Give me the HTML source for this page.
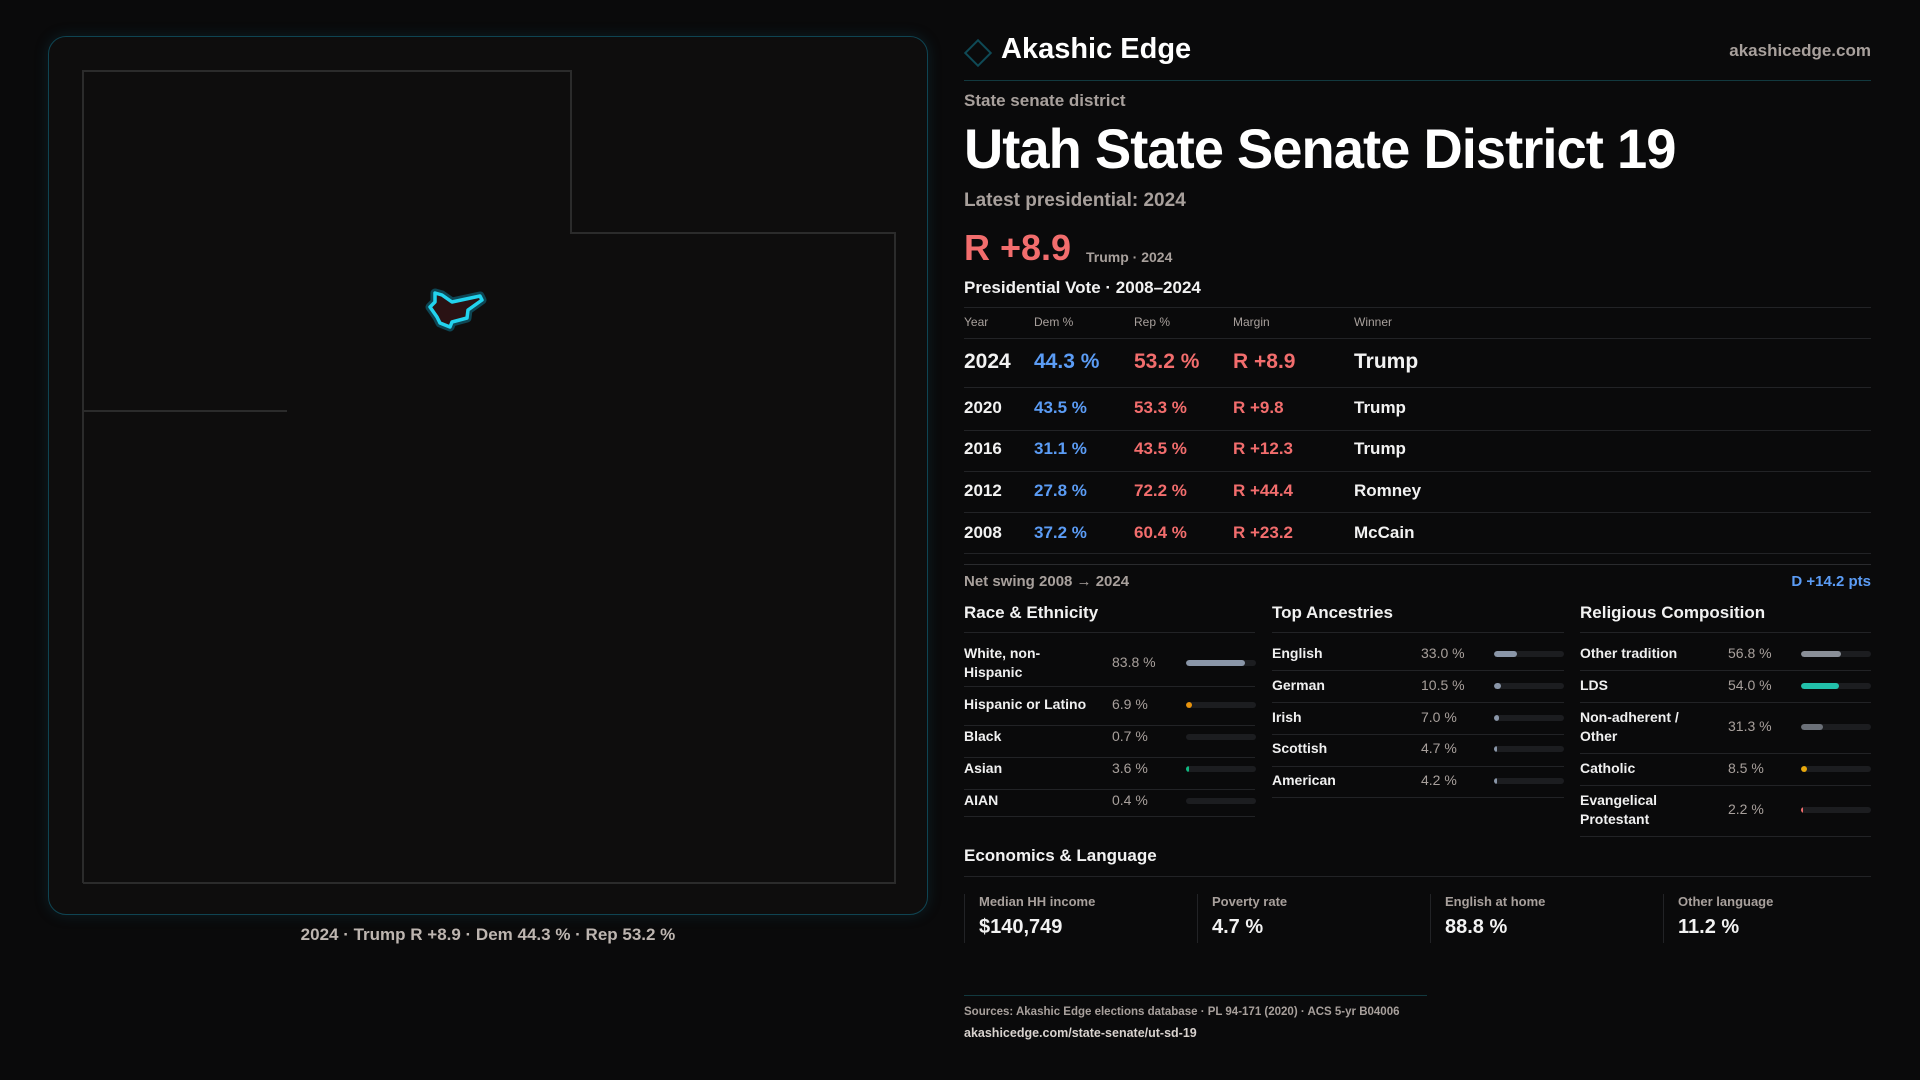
<!DOCTYPE html>
<html><head><meta charset="utf-8"><style>
*{margin:0;padding:0;box-sizing:border-box}
body{width:1920px;height:1080px;background:#0a0a0b;font-family:"Liberation Sans",sans-serif;color:#f2f2f2;position:relative;overflow:hidden}
.a{position:absolute;white-space:nowrap}
.g{color:#a8a09c}
.dem{color:#5b9cf5}.rep{color:#f26d6d}
.ln{position:absolute;height:1px;background:#222326}
.bar{position:absolute;height:6px;width:70px;border-radius:3px;background:#1c1d20;overflow:hidden}
.bar i{display:block;height:100%;border-radius:3px}
.lab{font-size:14px;font-weight:bold;color:#f0f0f0;line-height:19px}
.val{font-size:14px;color:#a8a09c}
</style></head><body>
<div class="a" style="left:48px;top:36px;width:880px;height:879px;border:1.5px solid #0f4452;border-radius:18px;background:#0e0d0d;box-shadow:0 0 14px rgba(20,90,110,.25)"></div>
<svg class="a" style="left:0;top:0" width="930" height="920">
<polyline points="83,883 83,71 571,71 571,233 895,233 895,883 83,883" fill="none" stroke="#2b2b2b" stroke-width="2"/>
<line x1="83" y1="411" x2="287" y2="411" stroke="#2b2b2b" stroke-width="2"/>
<polygon points="435,293 442,295 452,302 480,296 482,300 468,310 467,318 452,322 450,327 440,323 437,317 430,307 435,302" fill="#2a1214" stroke="#0e5566" stroke-width="9" stroke-linejoin="round" opacity=".8"/>
<polygon points="435,293 442,295 452,302 480,296 482,300 468,310 467,318 452,322 450,327 440,323 437,317 430,307 435,302" fill="#2a1214" stroke="#22d3ee" stroke-width="3.5" stroke-linejoin="round"/>
</svg>
<div class="a" style="left:0;width:976px;text-align:center;top:925px;font-size:17px;font-weight:bold;color:#bdb5b0">2024 · Trump R +8.9 · Dem 44.3 % · Rep 53.2 %</div>

<div class="a" style="left:968px;top:43px;width:20px;height:20px;border:2px solid #0f4a56;transform:rotate(45deg)"></div>
<div class="a" style="left:1001px;top:33px;font-size:29px;font-weight:bold;color:#fff">Akashic Edge</div>
<div class="a g" style="right:49px;top:41px;font-size:17px;font-weight:bold">akashicedge.com</div>
<div class="ln" style="left:964px;width:907px;top:80px;background:#12393f"></div>
<div class="a g" style="left:964px;top:91px;font-size:17px;font-weight:bold">State senate district</div>
<div class="a" style="left:964px;top:116px;font-size:56px;font-weight:bold;color:#fff;letter-spacing:-1px;transform:scaleX(.97);transform-origin:left">Utah State Senate District 19</div>
<div class="a g" style="left:964px;top:190px;font-size:19px;font-weight:bold">Latest presidential: 2024</div>
<div class="a rep" style="left:964px;top:227px;font-size:36px;font-weight:bold">R +8.9</div>
<div class="a g" style="left:1086px;top:249px;font-size:14px;font-weight:bold">Trump · 2024</div>
<div class="a" style="left:964px;top:278px;font-size:17px;font-weight:bold">Presidential Vote · 2008–2024</div>
<div class="ln" style="left:964px;width:907px;top:307px"></div>
<div class="a g" style="left:964px;top:315px;font-size:12px">Year</div>
<div class="a g" style="left:1034px;top:315px;font-size:12px">Dem %</div>
<div class="a g" style="left:1134px;top:315px;font-size:12px">Rep %</div>
<div class="a g" style="left:1233px;top:315px;font-size:12px">Margin</div>
<div class="a g" style="left:1354px;top:315px;font-size:12px">Winner</div>
<div class="ln" style="left:964px;width:907px;top:338px"></div>
<div style="font-weight:bold">
<div class="a" style="left:964px;top:350px;font-size:21px">2024</div>
<div class="a dem" style="left:1034px;top:350px;font-size:21px">44.3 %</div>
<div class="a rep" style="left:1134px;top:350px;font-size:21px">53.2 %</div>
<div class="a rep" style="left:1233px;top:350px;font-size:21px">R +8.9</div>
<div class="a" style="left:1354px;top:350px;font-size:21px">Trump</div>
</div>
<div class="ln" style="left:964px;width:907px;top:387px"></div>
<div style="font-weight:bold;font-size:17px">
<div class="a" style="left:964px;top:398px">2020</div><div class="a dem" style="left:1034px;top:398px">43.5 %</div><div class="a rep" style="left:1134px;top:398px">53.3 %</div><div class="a rep" style="left:1233px;top:398px">R +9.8</div><div class="a" style="left:1354px;top:398px">Trump</div>
<div class="a" style="left:964px;top:439px">2016</div><div class="a dem" style="left:1034px;top:439px">31.1 %</div><div class="a rep" style="left:1134px;top:439px">43.5 %</div><div class="a rep" style="left:1233px;top:439px">R +12.3</div><div class="a" style="left:1354px;top:439px">Trump</div>
<div class="a" style="left:964px;top:481px">2012</div><div class="a dem" style="left:1034px;top:481px">27.8 %</div><div class="a rep" style="left:1134px;top:481px">72.2 %</div><div class="a rep" style="left:1233px;top:481px">R +44.4</div><div class="a" style="left:1354px;top:481px">Romney</div>
<div class="a" style="left:964px;top:523px">2008</div><div class="a dem" style="left:1034px;top:523px">37.2 %</div><div class="a rep" style="left:1134px;top:523px">60.4 %</div><div class="a rep" style="left:1233px;top:523px">R +23.2</div><div class="a" style="left:1354px;top:523px">McCain</div>
</div>
<div class="ln" style="left:964px;width:907px;top:430px"></div>
<div class="ln" style="left:964px;width:907px;top:471px"></div>
<div class="ln" style="left:964px;width:907px;top:512px"></div>
<div class="ln" style="left:964px;width:907px;top:553px"></div>
<div class="ln" style="left:964px;width:907px;top:564px;background:#2a2b2e"></div>
<div class="a g" style="left:964px;top:573px;font-size:15px;font-weight:bold">Net swing 2008 → 2024</div>
<div class="a dem" style="right:49px;top:573px;font-size:15px;font-weight:bold">D +14.2 pts</div>

<div class="a" style="left:964px;top:603px;font-size:17px;font-weight:bold">Race &amp; Ethnicity</div>
<div class="a" style="left:1272px;top:603px;font-size:17px;font-weight:bold">Top Ancestries</div>
<div class="a" style="left:1580px;top:603px;font-size:17px;font-weight:bold">Religious Composition</div>
<div class="ln" style="left:964px;width:291px;top:632px"></div>
<div class="ln" style="left:1272px;width:292px;top:632px"></div>
<div class="ln" style="left:1580px;width:291px;top:632px"></div>

<div class="a lab" style="left:964px;top:644px">White, non-<br>Hispanic</div><div class="a val" style="left:1112px;top:654px">83.8 %</div><div class="bar" style="left:1186px;top:660px"><i style="width:84%;background:#8a96a8"></i></div>
<div class="ln" style="left:964px;width:291px;top:686px"></div>
<div class="a lab" style="left:964px;top:695px">Hispanic or Latino</div><div class="a val" style="left:1112px;top:696px">6.9 %</div><div class="bar" style="left:1186px;top:702px"><i style="width:6px;background:#e8930c"></i></div>
<div class="ln" style="left:964px;width:291px;top:725px"></div>
<div class="a lab" style="left:964px;top:727px">Black</div><div class="a val" style="left:1112px;top:728px">0.7 %</div><div class="bar" style="left:1186px;top:734px"></div>
<div class="ln" style="left:964px;width:291px;top:757px"></div>
<div class="a lab" style="left:964px;top:759px">Asian</div><div class="a val" style="left:1112px;top:760px">3.6 %</div><div class="bar" style="left:1186px;top:766px"><i style="width:3px;background:#10b981"></i></div>
<div class="ln" style="left:964px;width:291px;top:789px"></div>
<div class="a lab" style="left:964px;top:791px">AIAN</div><div class="a val" style="left:1112px;top:792px">0.4 %</div><div class="bar" style="left:1186px;top:798px"></div>
<div class="ln" style="left:964px;width:291px;top:816px"></div>

<div class="a lab" style="left:1272px;top:644px">English</div><div class="a val" style="left:1421px;top:645px">33.0 %</div><div class="bar" style="left:1494px;top:651px"><i style="width:33%;background:#8a96a8"></i></div>
<div class="ln" style="left:1272px;width:292px;top:670px"></div>
<div class="a lab" style="left:1272px;top:676px">German</div><div class="a val" style="left:1421px;top:677px">10.5 %</div><div class="bar" style="left:1494px;top:683px"><i style="width:7px;background:#8a96a8"></i></div>
<div class="ln" style="left:1272px;width:292px;top:702px"></div>
<div class="a lab" style="left:1272px;top:708px">Irish</div><div class="a val" style="left:1421px;top:709px">7.0 %</div><div class="bar" style="left:1494px;top:715px"><i style="width:5px;background:#8a96a8"></i></div>
<div class="ln" style="left:1272px;width:292px;top:734px"></div>
<div class="a lab" style="left:1272px;top:739px">Scottish</div><div class="a val" style="left:1421px;top:740px">4.7 %</div><div class="bar" style="left:1494px;top:746px"><i style="width:3px;background:#8a96a8"></i></div>
<div class="ln" style="left:1272px;width:292px;top:766px"></div>
<div class="a lab" style="left:1272px;top:771px">American</div><div class="a val" style="left:1421px;top:772px">4.2 %</div><div class="bar" style="left:1494px;top:778px"><i style="width:3px;background:#8a96a8"></i></div>
<div class="ln" style="left:1272px;width:292px;top:797px"></div>

<div class="a lab" style="left:1580px;top:644px">Other tradition</div><div class="a val" style="left:1728px;top:645px">56.8 %</div><div class="bar" style="left:1801px;top:651px"><i style="width:57%;background:#8a8f98"></i></div>
<div class="ln" style="left:1580px;width:291px;top:670px"></div>
<div class="a lab" style="left:1580px;top:676px">LDS</div><div class="a val" style="left:1728px;top:677px">54.0 %</div><div class="bar" style="left:1801px;top:683px"><i style="width:54%;background:#22c0aa"></i></div>
<div class="ln" style="left:1580px;width:291px;top:702px"></div>
<div class="a lab" style="left:1580px;top:708px">Non-adherent /<br>Other</div><div class="a val" style="left:1728px;top:718px">31.3 %</div><div class="bar" style="left:1801px;top:724px"><i style="width:31%;background:#6b7078"></i></div>
<div class="ln" style="left:1580px;width:291px;top:753px"></div>
<div class="a lab" style="left:1580px;top:759px">Catholic</div><div class="a val" style="left:1728px;top:760px">8.5 %</div><div class="bar" style="left:1801px;top:766px"><i style="width:6px;background:#e8a80c"></i></div>
<div class="ln" style="left:1580px;width:291px;top:785px"></div>
<div class="a lab" style="left:1580px;top:791px">Evangelical<br>Protestant</div><div class="a val" style="left:1728px;top:801px">2.2 %</div><div class="bar" style="left:1801px;top:807px"><i style="width:2px;background:#f26d6d"></i></div>
<div class="ln" style="left:1580px;width:291px;top:836px"></div>

<div class="a" style="left:964px;top:846px;font-size:17px;font-weight:bold">Economics &amp; Language</div>
<div class="ln" style="left:964px;width:907px;top:876px"></div>
<div class="a" style="left:964px;top:894px;width:1px;height:49px;background:#222326"></div>
<div class="a" style="left:1197px;top:894px;width:1px;height:49px;background:#222326"></div>
<div class="a" style="left:1430px;top:894px;width:1px;height:49px;background:#222326"></div>
<div class="a" style="left:1663px;top:894px;width:1px;height:49px;background:#222326"></div>
<div class="a g" style="left:979px;top:894px;font-size:13px;font-weight:bold">Median HH income</div>
<div class="a" style="left:979px;top:916px;font-size:20px;font-weight:bold">$140,749</div>
<div class="a g" style="left:1212px;top:894px;font-size:13px;font-weight:bold">Poverty rate</div>
<div class="a" style="left:1212px;top:916px;font-size:20px;font-weight:bold">4.7 %</div>
<div class="a g" style="left:1445px;top:894px;font-size:13px;font-weight:bold">English at home</div>
<div class="a" style="left:1445px;top:916px;font-size:20px;font-weight:bold">88.8 %</div>
<div class="a g" style="left:1678px;top:894px;font-size:13px;font-weight:bold">Other language</div>
<div class="a" style="left:1678px;top:916px;font-size:20px;font-weight:bold">11.2 %</div>

<div class="ln" style="left:964px;width:463px;top:995px;background:#12393f"></div>
<div class="a g" style="left:964px;top:1006px;font-size:11.5px;font-weight:bold">Sources: Akashic Edge elections database · PL 94-171 (2020) · ACS 5-yr B04006</div>
<div class="a" style="left:964px;top:1026px;font-size:12.5px;font-weight:bold;color:#d8d2ce">akashicedge.com/state-senate/ut-sd-19</div>
</body></html>
